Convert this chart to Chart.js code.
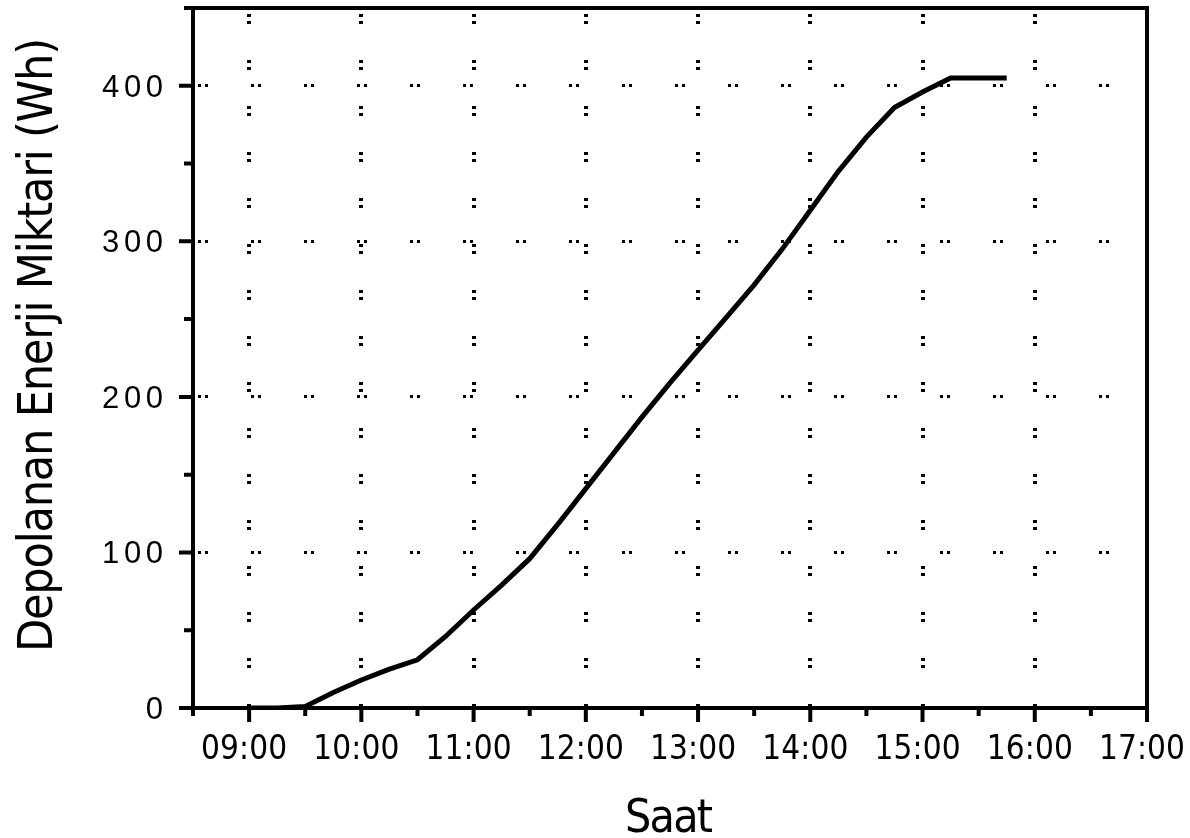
<!DOCTYPE html>
<html>
<head>
<meta charset="utf-8">
<script src="https://cdn.jsdelivr.net/npm/chart.js@4.4.1/dist/chart.umd.min.js"></script>
<style>
  html, body { margin: 0; padding: 0; background: #fff; }
  canvas { display: block; }
</style>
</head>
<body>
<canvas id="chart" width="1190" height="838"></canvas>
<script>
// time of day in hours, energy stored in Wh
const times = [9.0, 9.25, 9.5, 9.75, 10.0, 10.25, 10.5, 10.75, 11.0, 11.25, 11.5, 11.75,
  12.0, 12.25, 12.5, 12.75, 13.0, 13.25, 13.5, 13.75, 14.0, 14.25, 14.5, 14.75,
  15.0, 15.25, 15.5, 15.75];
const energy = [0, 0, 1, 10, 18, 25, 31, 46, 63, 79, 96, 118,
  141, 164, 187, 209, 230, 251, 272, 295, 320, 345, 367, 386,
  396, 405, 405, 405];

const xTicks = [9, 10, 11, 12, 13, 14, 15, 16, 17];
const xTickLabels = ['09:00', '10:00', '11:00', '12:00', '13:00', '14:00', '15:00', '16:00', '17:00'];
const xMinorTicks = [8.5, 9.5, 10.5, 11.5, 12.5, 13.5, 14.5, 15.5, 16.5];
const yTicks = [0, 100, 200, 300, 400];
const yTickLabels = ['0', '100', '200', '300', '400'];
const yMinorTicks = [50, 150, 250, 350, 450];

const xTitle = 'Saat';
const yTitle = 'Depolanan Enerji Miktari (Wh)';

const narrow = '"Liberation Sans Narrow", "DejaVu Sans Condensed", sans-serif';

// set letter spacing so the glyphs of 'text' span about 'span' pixels
function spacedText(ctx, text, font, span) {
  ctx.font = font;
  ctx.letterSpacing = '0px';
  const w = ctx.measureText(text).width;
  const sp = text.length > 1 ? (span - w) / (text.length - 1) : 0;
  ctx.letterSpacing = sp + 'px';
  return sp;
}

const framePlugin = {
  id: 'frame',
  afterDraw(chart) {
    const ctx = chart.ctx;
    const a = chart.chartArea;
    const xs = chart.scales.x, ys = chart.scales.y;
    ctx.save();
    ctx.strokeStyle = '#000';
    ctx.fillStyle = '#000';
    ctx.lineWidth = 4;
    ctx.strokeRect(a.left, a.top, a.right - a.left, a.bottom - a.top);

    // tick marks, major and minor
    ctx.beginPath();
    xTicks.forEach(v => { const p = xs.getPixelForValue(v); ctx.moveTo(p, a.bottom); ctx.lineTo(p, a.bottom + 14); });
    xMinorTicks.forEach(v => { const p = xs.getPixelForValue(v); ctx.moveTo(p, a.bottom); ctx.lineTo(p, a.bottom + 8); });
    yTicks.forEach(v => { const p = ys.getPixelForValue(v); ctx.moveTo(a.left, p); ctx.lineTo(a.left - 14, p); });
    yMinorTicks.forEach(v => { const p = ys.getPixelForValue(v); ctx.moveTo(a.left, p); ctx.lineTo(a.left - 9, p); });
    ctx.stroke();

    // tick labels
    ctx.textBaseline = 'alphabetic';
    ctx.textAlign = 'left';
    xTicks.forEach((v, i) => {
      const t = xTickLabels[i];
      spacedText(ctx, t, '33px ' + narrow, 86);
      ctx.fillText(t, xs.getPixelForValue(v) - 48, a.bottom + 51);
    });
    yTicks.forEach((v, i) => {
      const t = yTickLabels[i];
      const sp = spacedText(ctx, t, '31px "Liberation Sans", Arial, sans-serif', 61 * t.length / 3);
      const w = ctx.measureText(t).width - sp;
      ctx.fillText(t, 163 - w, ys.getPixelForValue(v) + 11);
    });

    // axis titles
    spacedText(ctx, xTitle, '46px ' + narrow, 88);
    ctx.fillText(xTitle, 625, 832);

    ctx.translate(52, 652);
    ctx.rotate(-Math.PI / 2);
    spacedText(ctx, yTitle, '48px ' + narrow, 614);
    ctx.fillText(yTitle, 0, 0);
    ctx.restore();
  }
};

const points = times.map((t, i) => ({ x: t, y: energy[i] }));

new Chart(document.getElementById('chart'), {
  type: 'line',
  data: {
    datasets: [{
      data: points,
      borderColor: '#000',
      borderWidth: 5,
      pointRadius: 0,
      tension: 0,
      fill: false
    }]
  },
  options: {
    responsive: false,
    animation: false,
    layout: { padding: { top: 8, right: 43, left: 0, bottom: 0 } },
    plugins: { legend: { display: false }, tooltip: { enabled: false } },
    scales: {
      x: {
        type: 'linear',
        min: 8.5,
        max: 17,
        afterBuildTicks: s => { s.ticks = xTicks.map(v => ({ value: v })); },
        afterFit: s => { s.height = 130; },
        ticks: { display: false },
        grid: {
          drawTicks: false,
          lineWidth: 4,
          color: c => (c.tick && c.tick.value > 8.5 && c.tick.value < 17) ? '#000' : 'rgba(0,0,0,0)'
        },
        border: { display: false, dash: [3, 4, 3, 36], dashOffset: -6 }
      },
      y: {
        type: 'linear',
        min: 0,
        max: 450,
        afterBuildTicks: s => { s.ticks = yTicks.map(v => ({ value: v })); },
        afterFit: s => { s.width = 193; },
        ticks: { display: false },
        grid: {
          drawTicks: false,
          lineWidth: 3,
          color: c => (c.tick && c.tick.value > 0) ? '#000' : 'rgba(0,0,0,0)'
        },
        border: { display: false, dash: [3, 4, 3, 43], dashOffset: -5 }
      }
    }
  },
  plugins: [framePlugin]
});
</script>
</body>
</html>
